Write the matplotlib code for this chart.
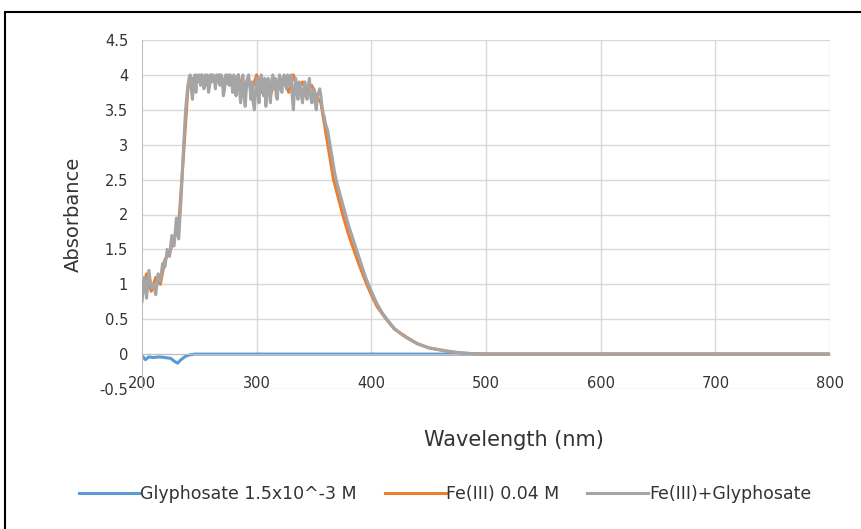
import matplotlib
matplotlib.use("Agg")
import matplotlib.pyplot as plt
from matplotlib.patches import Rectangle

plt.rcParams['font.family'] = ['DejaVu Sans']

# Fe(III)+Glyphosate (gray)
wl_mix = ([200, 202, 204, 206, 208, 210, 212, 214, 216, 218, 220, 222, 224, 226, 228,
           230, 232, 234, 236, 238]
          + list(range(240, 361))
          + [362, 365, 368, 370, 375, 380, 385, 390, 395, 400, 405, 410, 415, 420, 425,
             430, 440, 450, 460, 470, 480, 490, 500, 800])
abs_mix = [0.75, 1.1, 0.8, 1.2, 0.95, 1.0, 0.85, 1.15, 1.05, 1.3, 1.25, 1.5, 1.4, 1.7, 1.55,
           1.95, 1.65, 2.2, 2.9, 3.5,
           # 240 - 360 nm, 1 nm steps
           3.85, 3.95, 4.0, 3.8, 3.65, 3.9, 4.0, 3.75, 4.0, 3.9,
           4.0, 3.85, 4.0, 3.95, 3.8, 4.0, 3.9, 4.0, 3.75, 3.85,
           4.0, 3.9, 4.0, 3.95, 3.8, 4.0, 3.9, 4.0, 3.85, 4.0,
           3.95, 3.7, 3.8, 4.0, 3.9, 4.0, 3.85, 4.0, 3.95, 3.75,
           4.0, 3.9, 3.7, 3.95, 4.0, 3.8, 3.6, 3.85, 4.0, 3.7,
           3.55, 3.8, 3.95, 4.0, 3.85, 3.65, 3.9, 3.6, 3.5, 3.75,
           3.95, 3.8, 3.6, 3.9, 4.0, 3.85, 3.7, 3.95, 3.55, 3.8,
           3.95, 3.75, 3.6, 3.9, 4.0, 3.8, 3.95, 3.7, 3.65, 3.9,
           4.0, 3.85, 3.75, 3.95, 4.0, 3.9, 3.8, 4.0, 3.95, 3.85,
           4.0, 3.7, 3.5, 3.8, 3.95, 3.75, 3.65, 3.9, 3.85, 3.7,
           3.6, 3.8, 3.9, 3.7, 3.65, 3.85, 3.95, 3.7, 3.6, 3.75,
           3.8, 3.6, 3.5, 3.7, 3.75, 3.8, 3.7, 3.55, 3.45, 3.4,
           3.3,
           3.2, 2.9, 2.6, 2.45, 2.15, 1.85, 1.6, 1.35, 1.1, 0.9, 0.72, 0.58, 0.47, 0.37, 0.3,
           0.24, 0.15, 0.09, 0.06, 0.035, 0.015, 0.005, 0.0, 0.0]

# Fe(III) 0.04 M (orange)
wl_fe = [200, 204, 208, 212, 216, 220, 224, 228, 232, 236, 240, 244, 248, 252, 256,
         260, 264, 268, 272, 276, 280, 284, 288, 292, 296, 300, 304, 308, 312, 316,
         320, 324, 328, 332, 336, 340, 344, 348, 352, 356, 360, 363, 367, 371, 375,
         380, 385, 390, 396, 400, 405, 413, 420, 431, 440, 450, 460, 470, 480, 490, 500, 800]
abs_fe = [0.9, 1.15, 0.9, 1.1, 1.0, 1.35, 1.45, 1.65, 1.85, 2.8, 3.8, 3.95, 3.9, 4.0, 3.85,
          4.0, 3.9, 4.0, 3.85, 3.95, 3.8, 4.0, 3.7, 3.95, 3.8, 4.0, 3.75, 3.9, 3.7, 3.95,
          3.8, 3.9, 3.75, 4.0, 3.8, 3.9, 3.75, 3.85, 3.7, 3.6, 3.2, 2.9, 2.5, 2.25, 2.0,
          1.72, 1.48, 1.25, 1.0, 0.85, 0.68, 0.5, 0.36, 0.24, 0.15, 0.09, 0.06, 0.03, 0.015, 0.005, 0.0, 0.0]

# Glyphosate 1.5x10^-3 M (blue)
wl_gly = [200, 203, 206, 210, 215, 220, 225, 228, 231, 234, 238, 242, 246, 800]
abs_gly = [-0.02, -0.08, -0.04, -0.05, -0.04, -0.05, -0.06, -0.1, -0.13, -0.08, -0.03, -0.01, 0.0, 0.0]

x_ticks = [200, 300, 400, 500, 600, 700, 800]
y_ticks = [-0.5, 0, 0.5, 1, 1.5, 2, 2.5, 3, 3.5, 4, 4.5]
y_labels = ['-0.5', '0', '0.5', '1', '1.5', '2', '2.5', '3', '3.5', '4', '4.5']

fig = plt.figure(figsize=(8.61, 5.29), dpi=100)
ax = fig.add_axes([142 / 861, 1 - 389 / 529, 688 / 861, 349 / 529])

# gridlines: horizontal across, vertical only above the axis
for y in y_ticks:
    ax.axhline(y, color='#D9D9D9', lw=1, zorder=0)
ax.vlines(x_ticks[1:], 0, 4.5, color='#D9D9D9', lw=1, zorder=0)

ax.plot(wl_gly, abs_gly, color='#5B9BD5', lw=2.2, label='Glyphosate 1.5x10^-3 M', zorder=2)
ax.plot(wl_fe, abs_fe, color='#ED7D31', lw=2.2, label='Fe(III) 0.04 M', zorder=3)
ax.plot(wl_mix, abs_mix, color='#A5A5A5', lw=2.2, label='Fe(III)+Glyphosate', zorder=4)

ax.set_xlim(200, 800)
ax.set_ylim(-0.5, 4.5)
ax.set_xticks(x_ticks)
ax.set_yticks(y_ticks)
ax.set_yticklabels(y_labels)

for s in ['top', 'right']:
    ax.spines[s].set_visible(False)
ax.spines['bottom'].set_position(('data', 0))
ax.spines['bottom'].set_color('#BFBFBF')
ax.spines['left'].set_color('#BFBFBF')
ax.tick_params(axis='x', length=0, pad=16, labelsize=10.5, colors='#333333')
ax.tick_params(axis='y', length=0, pad=10, labelsize=10.5, colors='#333333')

ax.set_ylabel('Absorbance', fontsize=14, color='#333333', labelpad=12)
fig.text(514 / 861, 1 - 440 / 529, 'Wavelength (nm)', fontsize=15, color='#333333',
         ha='center', va='center')

fig.legend(loc='center', bbox_to_anchor=(445 / 861, 1 - 494 / 529), ncol=3, frameon=False,
           fontsize=12.5, handlelength=3.5, handletextpad=0.05, columnspacing=1.6,
           labelcolor='#333333')

# outer border of the chart
fig.patches.append(Rectangle((5 / 861, -0.1), 1.0, (529 - 12) / 529 + 0.1,
                             transform=fig.transFigure, fill=False, ec='black', lw=1.5))

fig.savefig('out.png', dpi=100)
